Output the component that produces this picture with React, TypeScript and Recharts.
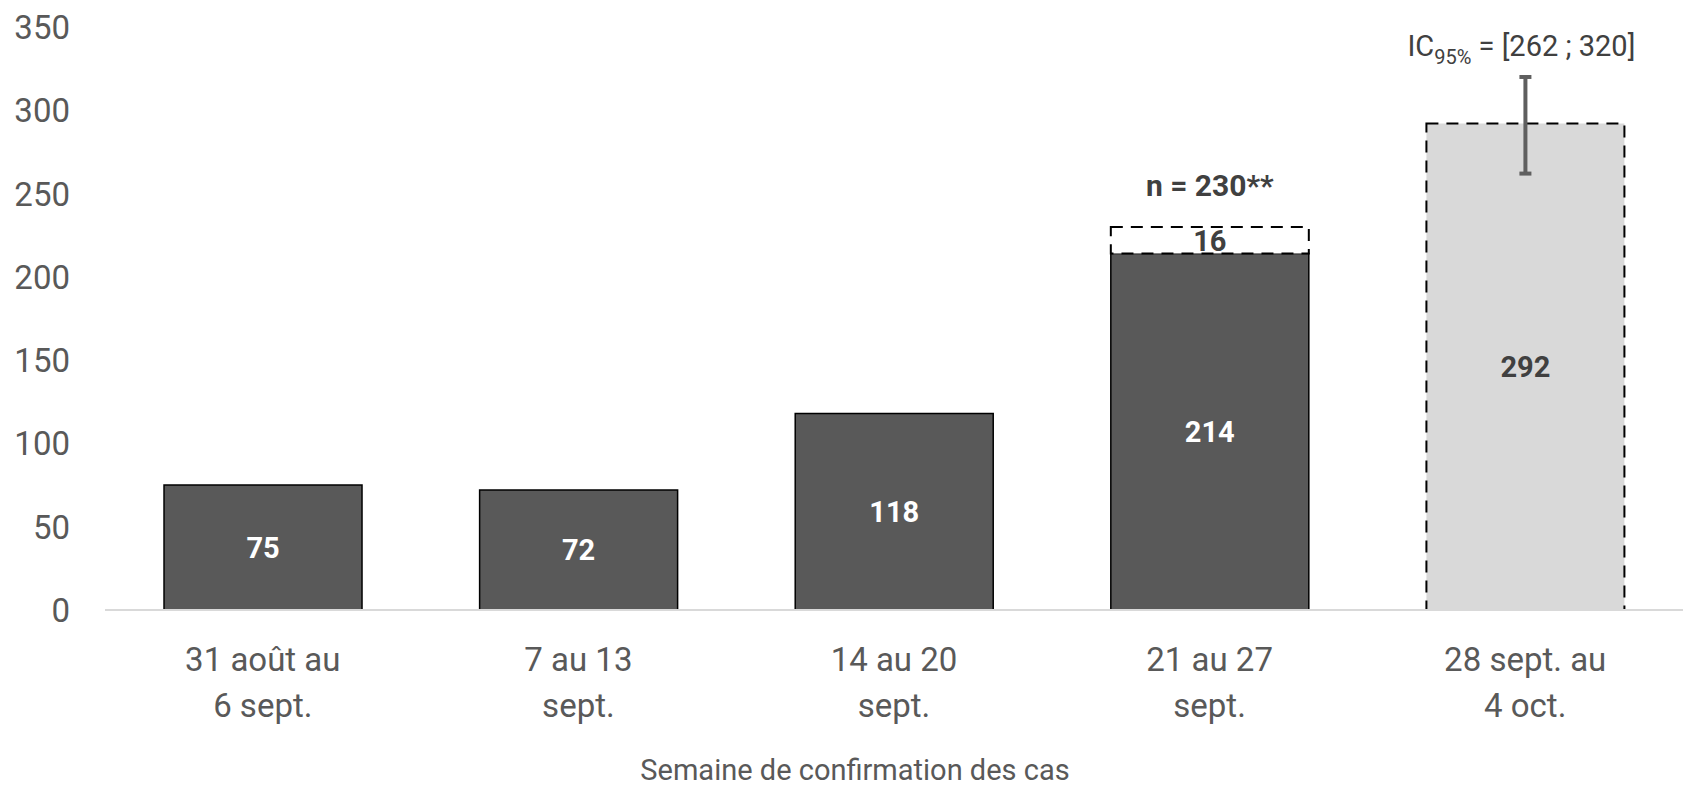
import React from "react";
import { BarChart, Bar, XAxis, YAxis, ErrorBar, LabelList } from "recharts";

const categories: string[][] = [
  ["31 août au", "6 sept."],
  ["7 au 13", "sept."],
  ["14 au 20", "sept."],
  ["21 au 27", "sept."],
  ["28 sept. au", "4 oct."],
];
const confirmed: (number | null)[] = [75, 72, 118, 214, null];
const pending: (number | null)[] = [null, null, null, 16, null];
const projected: (number | null)[] = [null, null, null, null, 292];
const ciLow: (number | null)[] = [null, null, null, null, 262];
const ciHigh: (number | null)[] = [null, null, null, null, 320];
const yTicks = [0, 50, 100, 150, 200, 250, 300, 350];
const xTitle = "Semaine de confirmation des cas";
const totalSuffix = "**";

const data = categories.map((c, i) => {
  const p = projected[i];
  const lo = ciLow[i];
  const hi = ciHigh[i];
  const conf = confirmed[i];
  const pend = pending[i];
  return {
    key: c.join(" "),
    lines: c,
    confirmed: conf,
    pending: pend,
    projected: p,
    err: p != null && lo != null && hi != null ? [p - lo, hi - p] : undefined,
    total: conf != null && pend != null ? conf + pend : null,
    ciHigh: hi,
  };
});

const FONT = "Roboto, 'Noto Sans', sans-serif";
const GREY = "#595959";
const LABEL_DARK = "#404040";
const DASH = "12 8";

const XTick = (props: any) => {
  const { x, y, index } = props;
  const lines = data[index]?.lines ?? [];
  return (
    <text x={x} y={y} textAnchor="middle" fill={GREY} fontSize={33} fontFamily={FONT}>
      {lines.map((l: string, k: number) => (
        <tspan key={k} x={x} dy={k === 0 ? 61 : 46}>
          {l}
        </tspan>
      ))}
    </text>
  );
};

const YTick = (props: any) => {
  const { x, y, payload } = props;
  return (
    <text x={x} y={y} dy={12} textAnchor="end" fill={GREY} fontSize={33} fontFamily={FONT}>
      {payload.value}
    </text>
  );
};

const TotalLabel = (props: any) => {
  const { x, y, width, value } = props;
  if (value == null) return null;
  return (
    <text
      x={x + width / 2}
      y={y - 31}
      textAnchor="middle"
      fill={LABEL_DARK}
      fontSize={30}
      fontWeight="bold"
      fontFamily={FONT}
    >
      {`n = ${value}${totalSuffix}`}
    </text>
  );
};

const CiLabel = (props: any) => {
  const { x, y, width, height, value } = props;
  if (value == null || !height) return null;
  const idx = data.findIndex((d) => d.ciHigh === value);
  if (idx < 0) return null;
  const p = projected[idx];
  const lo = ciLow[idx];
  if (p == null || lo == null) return null;
  const yHi = y + height - (value * height) / p;
  const cx = x + width / 2 - 4;
  return (
    <text x={cx} y={yHi - 21} textAnchor="middle" fill={LABEL_DARK} fontSize={29} fontFamily={FONT}>
      <tspan>IC</tspan>
      <tspan fontSize={20} dy={8}>
        95%
      </tspan>
      <tspan dy={-8}>{` = [${lo} ; ${value}]`}</tspan>
    </text>
  );
};

export default function App() {
  return (
    <div style={{ position: "absolute", left: 0, top: 0, width: 1683, height: 786, background: "#fff" }}>
      <BarChart
        width={1683}
        height={786}
        data={data}
        margin={{ top: 27, right: 0, bottom: 0, left: 0 }}
        barCategoryGap="18.7%"
      >
        <XAxis
          dataKey="key"
          height={176}
          interval={0}
          tickLine={false}
          tickSize={0}
          tickMargin={0}
          axisLine={{ stroke: "#d9d9d9", strokeWidth: 2 }}
          tick={<XTick />}
          label={{
            value: xTitle,
            position: "insideBottom",
            offset: 6,
            dx: -39,
            fill: GREY,
            fontSize: 29,
            fontFamily: FONT,
          }}
        />
        <YAxis
          width={105}
          domain={[0, 350]}
          ticks={yTicks}
          axisLine={false}
          tickLine={false}
          tickSize={0}
          tickMargin={35}
          tick={<YTick />}
          interval={0}
        />
        <Bar
          dataKey="confirmed"
          stackId="a"
          fill={GREY}
          stroke="#000"
          strokeWidth={1.5}
          isAnimationActive={false}
        >
          <LabelList
            dataKey="confirmed"
            position="center"
            fill="#fff"
            fontSize={29}
            fontWeight="bold"
            fontFamily={FONT}
          />
        </Bar>
        <Bar
          dataKey="pending"
          stackId="a"
          fill="#fff"
          stroke="#000"
          strokeWidth={2}
          strokeDasharray={DASH}
          isAnimationActive={false}
        >
          <LabelList
            dataKey="pending"
            position="center"
            fill={LABEL_DARK}
            fontSize={29}
            fontWeight="bold"
            fontFamily={FONT}
          />
          <LabelList dataKey="total" content={<TotalLabel />} />
        </Bar>
        <Bar
          dataKey="projected"
          stackId="a"
          fill="#d9d9d9"
          stroke="#000"
          strokeWidth={2}
          strokeDasharray={DASH}
          isAnimationActive={false}
        >
          <ErrorBar dataKey="err" width={6} stroke="#5f5f5f" strokeWidth={4} direction="y" />
          <LabelList
            dataKey="projected"
            position="center"
            fill={LABEL_DARK}
            fontSize={29}
            fontWeight="bold"
            fontFamily={FONT}
          />
          <LabelList dataKey="ciHigh" content={<CiLabel />} />
        </Bar>
      </BarChart>
    </div>
  );
}
